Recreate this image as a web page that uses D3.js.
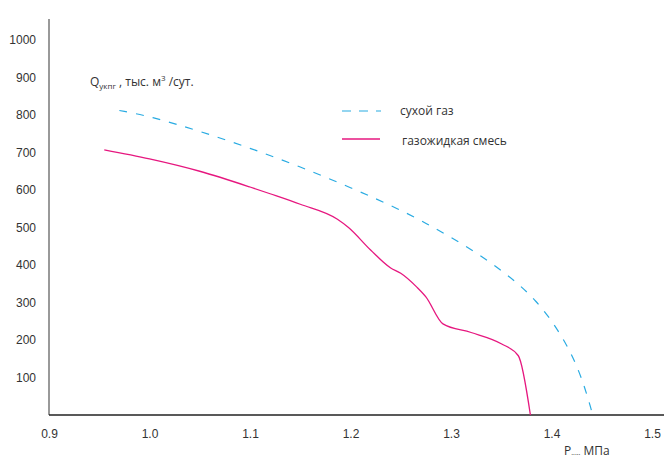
<!DOCTYPE html>
<html>
<head>
<meta charset="utf-8">
<script src="https://cdn.jsdelivr.net/npm/d3@7"></script>
<style>
  body { margin: 0; background: #fff; }
  svg { font-family: "Open Sans", "Noto Sans", sans-serif; }
</style>
</head>
<body>
<svg width="664" height="459"></svg>
<script>
// сухой газ
const dryP = [0.97, 1.0, 1.05, 1.1, 1.15, 1.2, 1.25, 1.276, 1.3, 1.327, 1.357, 1.385, 1.409, 1.427, 1.438, 1.441]
const dryQ = [812, 797, 757, 712, 662, 607, 547, 510, 474, 430, 373, 307, 219, 125, 30, 0]
// газожидкая смесь
const mixP = [0.955, 1.0, 1.05, 1.1, 1.12, 1.15, 1.187, 1.198, 1.22, 1.24, 1.25, 1.266, 1.275, 1.292, 1.32, 1.35, 1.367, 1.379]
const mixQ = [707, 683, 650, 608, 590, 562, 522, 500, 440, 392, 378, 341, 315, 243, 220, 190, 158, 0]

const xTicks = [0.9, 1.0, 1.1, 1.2, 1.3, 1.4, 1.5]
const yTicks = [100, 200, 300, 400, 500, 600, 700, 800, 900, 1000]

const svg = d3.select("svg"),
    m = {left: 49, right: 652, top: 40, bottom: 415}

const x = d3.scaleLinear().domain([0.9, 1.5]).range([m.left, m.right])
const y = d3.scaleLinear().domain([0, 1000]).range([m.bottom, m.top])

// оси
svg.append("g")
  .attr("transform", `translate(${m.left},0)`)
  .call(d3.axisLeft(y).tickValues(yTicks).tickSize(0).tickPadding(13).tickFormat(d3.format("d")))
  .call(g => g.select(".domain").remove())
  .call(g => g.selectAll(".tick text").attr("font-size", 12).attr("fill", "#333"))

svg.append("line")
  .attr("x1", m.left).attr("x2", m.left).attr("y1", 19).attr("y2", m.bottom)
  .attr("stroke", "#777").attr("stroke-width", 1.5)

svg.append("g")
  .attr("transform", `translate(0,${m.bottom})`)
  .call(d3.axisBottom(x).tickValues(xTicks).tickSize(0).tickPadding(14).tickFormat(d3.format(".1f")))
  .call(g => g.select(".domain").remove())
  .call(g => g.selectAll(".tick text").attr("font-size", 12).attr("fill", "#333"))

svg.append("line")
  .attr("x1", m.left).attr("x2", 664).attr("y1", m.bottom).attr("y2", m.bottom)
  .attr("stroke", "#222").attr("stroke-width", 1.5)

// кривые
const line = d3.line()
  .x(d => x(d[0]))
  .y(d => y(d[1]))

svg.append("path")
  .attr("d", line.curve(d3.curveBasis)(d3.zip(dryP, dryQ)))
  .attr("fill", "none")
  .attr("stroke", "#29abe2")
  .attr("stroke-width", 1.2)
  .attr("stroke-dasharray", "8,9")

svg.append("path")
  .attr("d", line.curve(d3.curveMonotoneX)(d3.zip(mixP, mixQ)))
  .attr("fill", "none")
  .attr("stroke", "#e6177f")
  .attr("stroke-width", 1.3)

// легенда
svg.append("line")
  .attr("x1", 342).attr("x2", 381).attr("y1", 111).attr("y2", 111)
  .attr("stroke", "#29abe2").attr("stroke-width", 1.2)
  .attr("stroke-dasharray", "9,8")
svg.append("text").attr("x", 400).attr("y", 115)
  .attr("font-size", 12).attr("fill", "#333").text("сухой газ")

svg.append("line")
  .attr("x1", 342).attr("x2", 380).attr("y1", 139).attr("y2", 139)
  .attr("stroke", "#e6177f").attr("stroke-width", 1.3)
svg.append("text").attr("x", 402).attr("y", 145)
  .attr("font-size", 12).attr("fill", "#333").text("газожидкая смесь")

// подписи осей
const yl = svg.append("text").attr("x", 90).attr("y", 86)
  .attr("font-size", 12).attr("fill", "#333")
yl.append("tspan").text("Q")
yl.append("tspan").attr("font-size", 8).attr("dy", 3).text("укпг")
yl.append("tspan").attr("dy", -3).text(" , тыс. м")
yl.append("tspan").attr("font-size", 8).attr("dy", -5).text("3")
yl.append("tspan").attr("dy", 5).text(" /сут.")

const xl = svg.append("text").attr("x", 564).attr("y", 455)
  .attr("font-size", 12).attr("fill", "#333")
xl.append("tspan").text("P")
xl.append("tspan").attr("font-size", 7).text(".....")
xl.append("tspan").text(" МПа")
</script>
</body>
</html>
